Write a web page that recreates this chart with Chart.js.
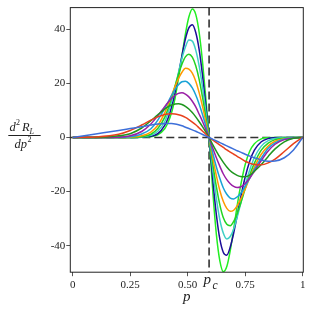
<!DOCTYPE html>
<html>
<head>
<meta charset="UTF-8">
<title>d2R/dp2</title>
<script src="https://cdn.jsdelivr.net/npm/chart.js"></script>
<style>
body{margin:0;background:#fff;}
#wrap{width:310px;height:310px;}
</style>
</head>
<body>
<div id="wrap"><canvas id="myChart" width="310" height="310"></canvas></div>
<script>
// p values (x axis)
var P = [0, 0.1, 0.2, 0.25, 0.3, 0.34, 0.37, 0.40, 0.415, 0.43, 0.445, 0.46, 0.475, 0.49, 0.505, 0.52, 0.535, 0.55, 0.565, 0.58, 0.593,
         0.61, 0.625, 0.64, 0.655, 0.67, 0.685, 0.70, 0.715, 0.73, 0.75, 0.77, 0.79, 0.82, 0.85, 0.88, 0.92, 0.96, 1];
var PC = 0.593;

var X_TICKS = [0, 0.25, 0.5, 0.75, 1];
var X_TICK_LABELS = ['0', '0.25', '0.50', '0.75', '1'];
var Y_TICKS = [-40, -20, 0, 20, 40];

// one curve per lattice size, smallest first
var c1  = [0, 1.3, 2.6, 3.3, 4.0, 4.6, 5.0, 5.2, 5.2, 5.15, 5.0, 4.7, 4.3, 3.8, 3.3, 2.8, 2.3, 1.7, 1.1, 0.5, 0,
           -0.7, -1.3, -1.9, -2.5, -3.1, -3.7, -4.3, -4.9, -5.4, -6.2, -6.9, -7.5, -8.3, -8.8, -8.7, -7.5, -4.6, 0];
var c2  = [0, 0.2, 1.2, 2.6, 4.6, 6.4, 7.6, 8.5, 8.7, 8.8, 8.7, 8.4, 8.0, 7.4, 6.6, 5.7, 4.7, 3.5, 2.3, 1.1, 0,
           -1.0, -1.9, -2.8, -3.7, -4.6, -5.4, -6.2, -7.0, -7.7, -8.8, -9.5, -10.0, -10.1, -9.4, -8.0, -5.2, -2.3, 0];
var c3  = [0, 0, 0.6, 1.4, 3.5, 6.2, 8.4, 10.5, 11.4, 12.0, 12.4, 12.5, 12.2, 11.5, 10.5, 9.2, 7.6, 5.8, 3.9, 1.8, 0,
           -2.8, -5.1, -7.3, -9.2, -10.9, -12.3, -13.3, -14.0, -14.4, -14.5, -13.9, -12.5, -10.0, -7.0, -4.2, -1.6, -0.3, 0];
var c4  = [0, 0, 0.1, 0.6, 2.2, 5.0, 8.0, 11.4, 13.0, 14.5, 15.6, 16.3, 16.5, 16.0, 15.0, 13.4, 11.3, 8.6, 5.8, 2.7, 0,
           -4.2, -7.6, -10.7, -13.5, -15.6, -17.1, -18.1, -18.5, -18.3, -17.0, -15.0, -12.5, -8.5, -5.0, -2.5, -0.8, -0.2, 0];
var c5  = [0, 0, 0, 0.3, 1.3, 3.2, 6.4, 10.7, 13.1, 15.6, 17.8, 19.5, 20.6, 20.8, 20.0, 18.3, 15.7, 12.3, 8.3, 3.9, 0,
           -6.1, -11.0, -15.2, -18.7, -21.0, -22.4, -22.7, -22.0, -20.7, -18.1, -15.0, -11.8, -7.6, -4.0, -2.0, -0.6, -0.1, 0];
var c6  = [0, 0, 0, 0.1, 0.6, 2.0, 4.5, 9.1, 12.1, 15.5, 18.8, 21.8, 24.1, 25.6, 25.3, 23.8, 20.8, 16.5, 11.3, 5.3, 0,
           -7.9, -14.3, -19.7, -23.7, -26.2, -27.3, -26.9, -25.3, -22.9, -19.0, -14.8, -10.9, -6.2, -3.2, -1.4, -0.5, -0.1, 0];
var c7  = [0, 0, 0, 0, 0.3, 1.2, 3.3, 7.4, 10.7, 14.7, 19.0, 23.4, 27.1, 29.8, 30.8, 29.7, 26.5, 21.4, 14.6, 7.0, 0,
           -10.3, -18.4, -25.0, -29.7, -32.1, -32.6, -31.0, -28.2, -24.5, -19.0, -13.9, -9.5, -4.7, -2.1, -0.8, -0.2, 0, 0];
var c8  = [0, 0, 0, 0, 0.2, 0.8, 2.3, 5.8, 9.1, 13.4, 18.5, 24.0, 29.3, 33.4, 36.0, 35.6, 32.3, 26.4, 18.3, 8.8, 0,
           -12.8, -22.8, -30.5, -35.4, -37.5, -36.6, -33.8, -29.5, -24.5, -17.7, -11.9, -7.4, -3.2, -1.2, -0.4, -0.1, 0, 0];
var c9  = [0, 0, 0, 0, 0.05, 0.4, 1.4, 4.5, 7.2, 11.3, 16.7, 23.4, 30.2, 36.4, 40.5, 41.7, 38.8, 32.4, 22.6, 10.9, 0,
           -16.5, -28.8, -37.7, -42.5, -43.5, -40.5, -35.3, -28.9, -22.3, -14.6, -8.7, -4.7, -1.6, -0.4, -0.1, 0, 0, 0];
var c10 = [0, 0, 0, 0, 0.05, 0.3, 1.0, 3.2, 5.6, 9.2, 14.5, 21.8, 30.1, 38.2, 44.5, 47.5, 45.5, 38.7, 27.5, 13.3, 0,
           -21.0, -36.1, -45.7, -49.6, -47.7, -41.8, -33.8, -25.3, -17.9, -10.0, -5.0, -2.3, -0.5, -0.1, 0, 0, 0, 0];

var curves = [c1, c2, c3, c4, c5, c6, c7, c8, c9, c10];
var colors = ['#3d6fd9', '#e8401c', '#1f961f', '#9a1ea6', '#1aa3d6', '#ff9900', '#22d422', '#3fcfc6', '#1c0c99', '#22ee22'];

var serif = 'Liberation Serif, Times New Roman, serif';

// frame, dashed guide lines and the math labels
var decor = {
	id: 'decor',
	beforeDatasetsDraw: function(chart){
		var ctx = chart.ctx, a = chart.chartArea;
		var xs = chart.scales.x, ys = chart.scales.y;
		ctx.save();
		ctx.strokeStyle = '#333';
		ctx.lineWidth = 1.6;
		ctx.setLineDash([8, 4]);
		var y0 = ys.getPixelForValue(0);
		ctx.beginPath(); ctx.moveTo(a.left, y0); ctx.lineTo(a.right, y0); ctx.stroke();
		var xc = xs.getPixelForValue(PC);
		ctx.beginPath(); ctx.moveTo(xc, a.top); ctx.lineTo(xc, a.bottom); ctx.stroke();
		ctx.restore();
	},
	afterDraw: function(chart){
		var ctx = chart.ctx, a = chart.chartArea;
		var xs = chart.scales.x;
		ctx.save();
		ctx.strokeStyle = '#222';
		ctx.lineWidth = 1;
		ctx.strokeRect(a.left, a.top, a.right - a.left, a.bottom - a.top);

		ctx.fillStyle = '#222';
		ctx.textBaseline = 'alphabetic';
		ctx.textAlign = 'left';
		// p_c under the axis
		var xc = xs.getPixelForValue(PC);
		ctx.font = 'italic 15px ' + serif;
		ctx.fillText('p', xc - 5.5, 284);
		ctx.font = 'italic 11.5px ' + serif;
		ctx.fillText('c', xc + 3.5, 288.5);
		// axis title p
		ctx.font = 'italic 15px ' + serif;
		ctx.textAlign = 'center';
		ctx.fillText('p', (a.left + a.right) / 2, 301);

		// y title: d^2 R_L / dp^2
		ctx.textAlign = 'left';
		ctx.font = 'italic 12.5px ' + serif;
		ctx.fillText('d', 9.5, 131);
		ctx.fillText('R', 22, 131);
		ctx.fillText('dp', 14.5, 148);
		ctx.font = '8px ' + serif;
		ctx.fillText('2', 16, 125);
		ctx.fillText('2', 27.5, 141.5);
		ctx.font = 'italic 8px ' + serif;
		ctx.fillText('L', 29.5, 134);
		ctx.beginPath();
		ctx.moveTo(8.3, 135.5); ctx.lineTo(40.7, 135.5);
		ctx.stroke();
		ctx.restore();
	}
};

var ctx = document.getElementById('myChart');
new Chart(ctx, {
	type: 'line',
	data: {
		datasets: curves.map(function(c, i){
			return {
				label: 'curve ' + (i + 1),
				data: P.map(function(p, j){ return {x: p, y: c[j]}; }),
				borderColor: colors[i],
				borderWidth: 1.5,
				pointRadius: 0,
				fill: false,
				cubicInterpolationMode: 'monotone'
			};
		})
	},
	options: {
		animation: false,
		responsive: false,
		devicePixelRatio: 1,
		layout: { padding: { left: 0, right: 6.7, top: 4.7, bottom: 0 } },
		plugins: { legend: { display: false }, tooltip: { enabled: false } },
		scales: {
			x: {
				type: 'linear',
				min: -0.0104,
				max: 1.0026,
				afterBuildTicks: function(s){ s.ticks = X_TICKS.map(function(v){ return {value: v}; }); },
				afterFit: function(s){ s.height = 37.8; },
				ticks: {
					autoSkip: false, maxRotation: 0, padding: 2, color: '#222',
					font: { family: serif, size: 11 },
					callback: function(v){ var i = X_TICKS.indexOf(v); return i < 0 ? '' : X_TICK_LABELS[i]; }
				},
				grid: { drawOnChartArea: false, drawTicks: true, tickLength: 4, color: '#555' },
				border: { display: false }
			},
			y: {
				type: 'linear',
				min: -49.8,
				max: 48,
				afterBuildTicks: function(s){ s.ticks = Y_TICKS.map(function(v){ return {value: v}; }); },
				afterFit: function(s){ s.width = 70.3; },
				ticks: {
					padding: 1, color: '#222',
					font: { family: serif, size: 11 }
				},
				grid: { drawOnChartArea: false, drawTicks: true, tickLength: 4, color: '#555' },
				border: { display: false }
			}
		}
	},
	plugins: [decor]
});
</script>
</body>
</html>
